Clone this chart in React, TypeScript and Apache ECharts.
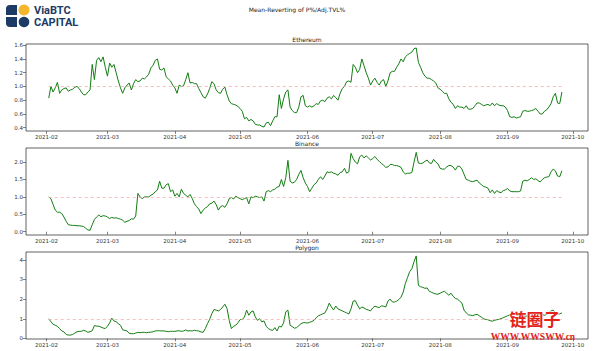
import React, { useEffect, useRef } from "react";
import * as echarts from "echarts";

// Daily series, starting 2021-02-02
const START_DATE = "2021-02-02";
const ethereum = [
  0.83, 1.0, 0.92, 0.98, 1.06, 0.9, 0.95, 0.97, 0.98, 0.93,
  0.95, 0.96, 0.99, 1.0, 0.97, 0.92, 0.88, 0.88, 0.92, 0.95,
  1.32, 1.1, 1.38, 1.42, 1.36, 1.43, 1.28, 1.15, 1.34, 1.28,
  1.32, 1.2, 1.08, 0.98, 0.9, 0.98, 1.02, 1.05, 0.95, 1.04,
  1.1, 1.07, 1.08, 1.12, 1.11, 1.14, 1.18, 1.27, 1.31, 1.38,
  1.4, 1.25, 1.24, 1.27, 1.14, 1.11, 1.08, 1.02, 0.98, 0.9,
  1.02, 1.0, 1.01, 1.1, 1.2, 1.05, 1.06, 1.04, 1.04, 0.97,
  0.91, 0.85, 0.83, 0.89, 0.97, 1.07, 1.04, 0.95, 0.91, 0.9,
  0.96, 0.99, 0.88, 0.79, 0.75, 0.74, 0.73, 0.71, 0.68, 0.64,
  0.53, 0.55, 0.5, 0.52, 0.5, 0.45, 0.44, 0.44, 0.42, 0.41,
  0.47, 0.48, 0.43, 0.5, 0.56, 0.56, 0.88, 0.68, 0.82, 0.92,
  0.95, 0.7, 0.65, 0.62, 0.62, 0.7, 0.85, 0.87, 0.72, 0.7,
  0.72, 0.7, 0.72, 0.75, 0.74, 0.79, 0.8, 0.78, 0.83, 0.85,
  0.82, 0.87, 0.84, 0.8, 0.9, 0.97, 1.0, 1.07, 1.08, 1.06,
  1.32, 1.28, 1.2, 1.25, 1.4, 1.3, 1.2, 1.12, 1.02, 1.08,
  1.12, 1.06, 1.02, 1.08, 1.1, 1.0, 1.08, 1.2, 1.22, 1.22,
  1.28, 1.33, 1.4, 1.36, 1.43, 1.46, 1.48, 1.5, 1.55, 1.56,
  1.35, 1.28, 1.2, 1.15, 1.12, 1.12, 1.1, 1.08, 1.05, 0.98,
  0.96, 0.93, 0.9, 0.9, 0.82, 0.77, 0.74, 0.68, 0.72, 0.7,
  0.7, 0.68, 0.72, 0.67, 0.67, 0.68, 0.72, 0.76, 0.76, 0.74,
  0.72, 0.73, 0.74, 0.72, 0.76, 0.72, 0.75, 0.73, 0.72, 0.72,
  0.7, 0.65, 0.56, 0.55, 0.56, 0.54, 0.55, 0.56, 0.64, 0.65,
  0.64, 0.64, 0.65, 0.66, 0.68, 0.64, 0.6, 0.6, 0.64, 0.66,
  0.7, 0.75, 0.85, 0.9, 0.76, 0.75, 0.92,
];
const binance = [
  1.0, 0.95, 0.78, 0.62, 0.56, 0.56, 0.52, 0.42, 0.3, 0.2,
  0.19, 0.18, 0.18, 0.17, 0.17, 0.16, 0.15, 0.1, 0.05, 0.04,
  0.2, 0.35, 0.42, 0.48, 0.43, 0.46, 0.45, 0.42, 0.38, 0.41,
  0.39, 0.4, 0.38, 0.36, 0.33, 0.27, 0.3, 0.32, 0.37, 0.36,
  0.45, 1.1, 1.0, 0.95, 1.0, 1.0, 1.0, 1.05, 1.08, 1.15,
  1.2, 1.45, 1.25, 1.25, 1.35, 1.38, 1.15, 1.2, 1.02, 1.1,
  1.0, 1.22, 1.1, 1.05, 1.0, 1.07, 0.95, 0.8, 0.72, 0.65,
  0.52, 0.62, 0.68, 0.72, 0.8, 0.82, 0.88, 0.78, 0.62, 0.72,
  0.75, 0.7, 0.8, 0.95, 0.98, 0.94, 1.02, 0.98, 0.95, 0.92,
  0.95, 0.98, 0.8, 1.0, 0.98, 1.02, 1.0, 0.98, 1.0, 0.88,
  1.15, 1.18, 1.15, 1.2, 1.22, 1.28, 1.3, 1.5, 1.3, 1.55,
  2.05, 1.45, 1.4, 1.42, 1.5, 1.65, 1.76, 1.55, 1.4, 1.3,
  1.15, 1.25, 1.35, 1.4, 1.5, 1.58, 1.5, 1.6, 1.72, 1.7,
  1.72, 1.68, 1.66, 1.62, 1.7, 1.72, 1.82, 1.68, 1.72, 2.25,
  2.1, 2.0, 1.95, 2.15, 2.2, 2.12, 2.18, 2.12, 2.06, 2.1,
  2.16, 2.08, 2.02, 1.96, 1.91, 1.85, 1.86, 1.93, 1.93, 1.9,
  1.9, 1.88, 1.85, 1.72, 1.66, 1.68, 1.68, 1.7, 2.0, 2.28,
  1.97, 1.96, 1.97, 2.02, 2.06, 1.98, 1.96, 2.08, 2.0, 1.95,
  1.82, 1.8, 1.8, 1.86, 1.9, 1.9, 1.86, 1.77, 1.88, 1.88,
  1.8, 1.65, 1.5, 1.48, 1.45, 1.44, 1.46, 1.48, 1.4, 1.35,
  1.3, 1.28, 1.25, 1.12, 1.2, 1.1, 1.18, 1.14, 1.12, 1.18,
  1.2, 1.24, 1.17, 1.15, 1.15, 1.15, 1.15, 1.17, 1.45, 1.48,
  1.46, 1.5, 1.55, 1.5, 1.52, 1.47, 1.43, 1.5, 1.55, 1.57,
  1.58, 1.72, 1.8, 1.75, 1.6, 1.58, 1.75,
];
const polygon = [
  1.0, 0.85, 0.72, 0.67, 0.62, 0.5, 0.38, 0.33, 0.2, 0.17,
  0.17, 0.2, 0.27, 0.34, 0.36, 0.36, 0.41, 0.38, 0.31, 0.34,
  0.39, 0.65, 0.63, 0.62, 0.58, 0.53, 0.5, 0.62, 0.79, 1.03,
  0.89, 0.85, 0.75, 0.67, 0.44, 0.41, 0.38, 0.26, 0.24, 0.24,
  0.27, 0.31, 0.29, 0.31, 0.31, 0.29, 0.31, 0.32, 0.34, 0.38,
  0.39, 0.39, 0.38, 0.38, 0.36, 0.34, 0.36, 0.36, 0.36, 0.38,
  0.39, 0.36, 0.38, 0.43, 0.38, 0.39, 0.38, 0.41, 0.39, 0.38,
  0.33, 0.31, 0.5, 0.75, 0.97, 1.26, 1.47, 1.44, 1.4, 1.47,
  1.6, 1.74, 1.52, 0.92, 0.5, 0.62, 0.67, 0.79, 0.96, 0.96,
  1.09, 1.44, 1.18, 1.35, 1.4, 1.09, 0.92, 1.0, 0.84, 0.89,
  0.62, 0.5, 0.44, 0.41, 0.55, 0.38, 0.62, 0.58, 0.79, 1.35,
  1.44, 0.67, 0.6, 0.52, 0.55, 0.65, 0.75, 0.8, 0.8, 0.78,
  0.82, 0.86, 0.92, 1.05, 1.15, 1.2, 1.25, 1.3, 1.5, 1.8,
  1.6, 1.45, 1.65, 1.5, 1.45, 1.4, 1.35, 1.3, 1.24, 1.5,
  1.9, 1.92, 1.7, 1.5, 1.6, 1.55, 1.48, 1.45, 1.4, 1.55,
  1.64, 1.6, 1.57, 1.66, 1.64, 1.6, 1.9, 2.0, 1.86, 1.85,
  1.9, 1.98, 2.1, 2.35, 2.8, 3.1, 3.4, 3.55, 3.9, 4.2,
  2.7, 2.63, 2.6, 2.55, 2.57, 2.4, 2.35, 2.3, 2.26, 2.25,
  2.3, 2.36, 2.4, 2.3, 2.2, 2.3, 2.15, 2.03, 2.0, 1.9,
  1.8, 1.44, 1.3, 1.2, 1.18, 1.16, 1.2, 1.23, 1.15, 1.08,
  1.0, 0.97, 0.95, 0.9, 0.88, 0.92, 0.95, 0.97, 1.0, 1.06,
  1.1, 1.15, 1.2, 1.22, 1.25, 1.2, 1.18, 1.2, 1.15, 1.12,
  1.15, 1.1, 1.08, 1.12, 1.2, 1.26, 1.22, 1.2, 1.18, 1.22,
  1.3, 1.4, 1.44, 1.3, 1.25, 1.25, 1.3,
];
const subplotTitles = ["Ethereum", "Binance", "Polygon"];
const mainTitle = "Mean-Reverting of P%/Adj.TVL%";
const referenceLevel = 1.0;

const DAY = 86400000;
const FONT = "DejaVu Sans";
const NAVY = "#1c3b66";

const fmtMonth = (v: number) => {
  const d = new Date(v);
  return `${d.getUTCFullYear()}-${String(d.getUTCMonth() + 1).padStart(2, "0")}`;
};

export default function App() {
  const ref = useRef<HTMLDivElement>(null);
  useEffect(() => {
    if (!ref.current) return;
    const chart = echarts.init(ref.current, null, { renderer: "svg" });
    const start = Date.parse(START_DATE + "T00:00:00Z");
    const toPairs = (arr: number[]) => arr.map((v, i) => [start + i * DAY, v]);
    const endDate = start + (ethereum.length - 1) * DAY;
    const xMin = Date.UTC(2021, 0, 22, 13);
    const xMax = Date.UTC(2021, 9, 8, 0);
    const tops = [44, 148, 252];
    const yRanges = [
      { min: 0.3525, max: 1.6175, split: 6, dec: 1 },
      { min: -0.095, max: 2.405, split: 5, dec: 1 },
      { min: -0.03, max: 4.4, split: 5, dec: 0 },
    ];
    const seriesData = [ethereum, binance, polygon];

    const grids = tops.map((t) => ({
      left: 26, top: t, width: 562, height: 87,
      show: true, borderColor: "#3a3a3a", borderWidth: 0.8, backgroundColor: "transparent",
    }));
    const xAxes = tops.map((_, i) => ({
      type: "time", gridIndex: i, min: xMin, max: xMax, splitNumber: 9,
      minInterval: 28 * DAY, maxInterval: 31 * DAY,
      axisLine: { show: false },
      axisTick: { show: true, length: 3, lineStyle: { color: "#333", width: 0.6 } },
      axisLabel: { fontSize: 5.5, color: "#333", margin: 3, fontFamily: FONT, formatter: fmtMonth, hideOverlap: false },
      splitLine: { show: false },
    }));
    const yAxes = yRanges.map((r, i) => ({
      type: "value", gridIndex: i, min: r.min, max: r.max, splitNumber: r.split,
      axisLine: { show: false },
      axisTick: { show: true, length: 3, lineStyle: { color: "#333", width: 0.6 } },
      axisLabel: {
        fontSize: 5.5, color: "#333", margin: 3, fontFamily: FONT,
        showMinLabel: false, showMaxLabel: false,
        formatter: (v: number) => v.toFixed(r.dec),
      },
      splitLine: { show: false },
    }));
    const series = seriesData.map((arr, i) => ({
      type: "line", xAxisIndex: i, yAxisIndex: i, data: toPairs(arr),
      showSymbol: false, symbol: "none",
      lineStyle: { color: "#127d12", width: 1 },
      markLine: {
        silent: true, symbol: ["none", "none"], label: { show: false },
        lineStyle: { type: [3, 3], color: "#f3a3a3", width: 0.7 },
        data: [[{ coord: [start, referenceLevel] }, { coord: [endDate, referenceLevel] }]],
      },
    }));

    const graphic: any[] = [
      { type: "text", x: 297, y: 9, style: { text: mainTitle, font: `6px "${FONT}"`, fill: "#222", textAlign: "center", textVerticalAlign: "middle" } },
      ...subplotTitles.map((t, i) => ({
        type: "text", x: 307, y: tops[i] - 5, style: { text: t, font: `6px "${FONT}"`, fill: "#222", textAlign: "center", textVerticalAlign: "middle" },
      })),
      // logo
      { type: "rect", shape: { x: 6, y: 5, width: 11, height: 10, r: [4, 0, 0, 0] }, style: { fill: NAVY } },
      { type: "circle", shape: { cx: 24, cy: 10, r: 5.5 }, style: { fill: "#f3b62d" } },
      { type: "rect", shape: { x: 6, y: 17, width: 11, height: 10, r: [0, 0, 0, 4] }, style: { fill: NAVY } },
      { type: "circle", shape: { cx: 24, cy: 22, r: 5.3 }, style: { fill: NAVY } },
      { type: "text", x: 34, y: 10, style: { text: "ViaBTC", font: `bold 11px Roboto`, fill: NAVY, textVerticalAlign: "middle" } },
      { type: "text", x: 34, y: 22.5, style: { text: "CAPITAL", font: `bold 11px Roboto`, fill: NAVY, textVerticalAlign: "middle" } },
      // watermark
      { type: "text", x: 535, y: 318.5, z: 100, style: { text: "链圈子", font: `bold 17px "Noto Sans CJK SC"`, fill: "#e3231b", textAlign: "center", textVerticalAlign: "middle", stroke: "#fff", lineWidth: 1 } },
      { type: "text", x: 533, y: 337, z: 100, style: { text: "WWW.WWSWW.cn", font: `bold 9.5px "Liberation Serif"`, fill: "#e3231b", textAlign: "center", textVerticalAlign: "middle" } },
    ];

    chart.setOption({
      animation: false,
      useUTC: true,
      backgroundColor: "#fff",
      grid: grids,
      xAxis: xAxes,
      yAxis: yAxes,
      series,
      graphic,
    });
    return () => chart.dispose();
  }, []);
  return <div ref={ref} style={{ position: "absolute", left: 0, top: 0, width: 594, height: 351 }} />;
}
